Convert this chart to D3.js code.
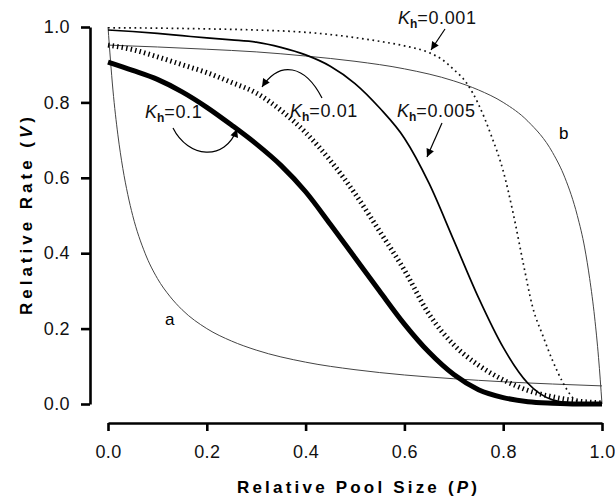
<!DOCTYPE html>
<html>
<head>
<meta charset="utf-8">
<script src="https://cdn.jsdelivr.net/npm/d3@7"></script>
<style>
  html, body { margin: 0; padding: 0; background: #fff; }
  svg { display: block; font-family: "Liberation Sans", Arial, Helvetica, sans-serif; }
</style>
</head>
<body>
<svg id="chart" width="615" height="501"></svg>
<script>
// ---- data ----
const xTicks = [0, 0.2, 0.4, 0.6, 0.8, 1.0];
const yTicks = [0, 0.2, 0.4, 0.6, 0.8, 1.0];

// curve a (thin)
const curveA = [[0,1.0],[0.01,0.833],[0.02,0.714],[0.03,0.625],[0.04,0.556],[0.05,0.5],[0.075,0.4],[0.1,0.333],
  [0.125,0.286],[0.15,0.25],[0.2,0.2],[0.25,0.167],[0.3,0.143],[0.4,0.111],[0.5,0.091],[0.6,0.077],
  [0.7,0.067],[0.8,0.059],[0.9,0.053],[1.0,0.048]];
// curve b (thin)
const curveB = [[0,0.952],[0.1,0.947],[0.2,0.941],[0.3,0.934],[0.4,0.923],[0.5,0.909],[0.6,0.889],
  [0.7,0.857],[0.75,0.833],[0.8,0.8],[0.85,0.75],[0.9,0.667],[0.925,0.6],[0.95,0.5],[0.965,0.414],
  [0.975,0.333],[0.985,0.231],[0.993,0.123],[1.0,0]];
// Kh = 0.1 (thick solid)
const curveK01 = [[0,0.907],[0.05,0.885],[0.1,0.861],[0.15,0.828],[0.2,0.787],[0.25,0.74],[0.3,0.69],
  [0.35,0.633],[0.4,0.563],[0.45,0.477],[0.5,0.388],[0.55,0.299],[0.6,0.212],[0.65,0.137],[0.7,0.078],
  [0.75,0.038],[0.8,0.017],[0.85,0.006],[0.9,0.002],[0.95,0],[1.0,0]];
// Kh = 0.01 (hatched)
const curveK001 = [[0,0.952],[0.05,0.94],[0.1,0.921],[0.15,0.9],[0.2,0.879],[0.25,0.853],[0.3,0.825],
  [0.35,0.779],[0.4,0.72],[0.45,0.646],[0.5,0.558],[0.55,0.458],[0.6,0.355],[0.65,0.238],[0.7,0.157],
  [0.75,0.103],[0.8,0.064],[0.85,0.036],[0.9,0.019],[0.95,0.008],[1.0,0.003]];
// Kh = 0.005 (medium solid)
const curveK0005 = [[0,0.992],[0.05,0.988],[0.1,0.983],[0.15,0.977],[0.2,0.971],[0.25,0.966],[0.3,0.96],
  [0.35,0.946],[0.4,0.926],[0.45,0.896],[0.5,0.85],[0.55,0.785],[0.6,0.705],[0.65,0.585],[0.7,0.434],
  [0.75,0.282],[0.8,0.15],[0.85,0.055],[0.9,0.011],[0.95,0.001],[1.0,0]];
// Kh = 0.001 (dotted)
const curveK0001 = [[0,0.998],[0.1,0.997],[0.2,0.995],[0.3,0.992],[0.4,0.986],[0.5,0.972],[0.55,0.962],
  [0.6,0.95],[0.65,0.932],[0.675,0.915],[0.7,0.887],[0.725,0.853],[0.75,0.795],[0.775,0.715],[0.8,0.618],[0.82,0.507],
  [0.84,0.377],[0.86,0.255],[0.88,0.182],[0.9,0.115],[0.92,0.059],[0.94,0.018],[0.96,0.003],[1.0,0]];

const khLabels = ["0.1", "0.01", "0.005", "0.001"];
const curveNames = ["a", "b"];
const xTitle = "Relative Pool Size";
const yTitle = "Relative Rate";

// ---- drawing ----
const svg = d3.select("#chart");
const x = d3.scaleLinear().domain([0, 1]).range([108, 602]);
const y = d3.scaleLinear().domain([0, 1]).range([404, 27]);
const FONT = "'Liberation Sans', Arial, Helvetica, sans-serif";

const defs = svg.append("defs");
defs.append("marker").attr("id", "ah").attr("viewBox", "0 0 10 10")
  .attr("refX", 10).attr("refY", 5).attr("markerWidth", 10).attr("markerHeight", 8)
  .attr("markerUnits", "userSpaceOnUse").attr("orient", "auto")
  .append("path").attr("d", "M0,0 L10,5 L0,10 Z").attr("fill", "#000");

// axes
const yAxis = d3.axisLeft(y).tickValues(yTicks).tickFormat(d3.format(".1f"))
  .tickSize(9).tickSizeOuter(0).tickPadding(11);
const gy = svg.append("g").attr("transform", "translate(90,0)").call(yAxis);
const xAxis = d3.axisBottom(x).tickValues(xTicks).tickFormat(d3.format(".1f"))
  .tickSize(8).tickSizeOuter(0).tickPadding(14);
const gx = svg.append("g").attr("transform", "translate(0,423)").call(xAxis);
[gx, gy].forEach(g => {
  g.select(".domain").attr("stroke", "#000").attr("stroke-width", 2.6);
  g.selectAll(".tick line").attr("stroke", "#000").attr("stroke-width", 2.6);
  g.selectAll(".tick text").attr("fill", "#111").style("font-size", "18px").style("font-family", FONT)
    .style("letter-spacing", "0.4px");
});

// axis titles
const xt = svg.append("text").attr("x", 357).attr("y", 493).attr("text-anchor", "middle")
  .style("font-size", "17px").style("font-weight", "bold").style("font-family", FONT)
  .attr("textLength", 240).attr("lengthAdjust", "spacing");
xt.append("tspan").text(xTitle + " (");
xt.append("tspan").style("font-style", "italic").text("P");
xt.append("tspan").text(")");

const yt = svg.append("text").attr("transform", "translate(32,216) rotate(-90)").attr("text-anchor", "middle")
  .style("font-size", "17px").style("font-weight", "bold").style("font-family", FONT)
  .attr("textLength", 198).attr("lengthAdjust", "spacing");
yt.append("tspan").text(yTitle + " (");
yt.append("tspan").style("font-style", "italic").text("V");
yt.append("tspan").text(")");

// curves
const line = d3.line().x(d => x(d[0])).y(d => y(d[1])).curve(d3.curveMonotoneX);
function draw(data, attrs) {
  const p = svg.append("path").datum(data).attr("d", line).attr("fill", "none");
  Object.entries(attrs).forEach(([k, v]) => p.attr(k, v));
}
draw(curveA, { stroke: "#444", "stroke-width": 1 });
draw(curveB, { stroke: "#444", "stroke-width": 1 });
draw(curveK0001, { stroke: "#111", "stroke-width": 1.7, "stroke-dasharray": "1.7,3.6" });
draw(curveK0005, { stroke: "#000", "stroke-width": 1.7 });
draw(curveK001, { stroke: "#000", "stroke-width": 5, "stroke-dasharray": "1.4,3.2" });
draw(curveK01, { stroke: "#000", "stroke-width": 5 });

// Kh labels
const khPos = [[145, 118], [290, 117], [397, 117], [398, 24]];
khLabels.forEach((lab, i) => {
  const t = svg.append("text").attr("x", khPos[i][0]).attr("y", khPos[i][1])
    .style("font-size", "18px").style("font-family", FONT).attr("fill", "#111");
  t.append("tspan").style("font-style", "italic").text("K");
  t.append("tspan").attr("dy", 4).style("font-size", "12px").style("font-weight", "bold").text("h");
  t.append("tspan").attr("dy", -4).style("letter-spacing", "0.6px").text("=" + lab);
});

// arrows
const arrows = [
  "M173,128 C188,158 225,162 237,129",
  "M322,98 C305,65 280,60 262,87",
  "M442,123 L427,157",
  "M445,29 L431,50"
];
arrows.forEach(d => {
  svg.append("path").attr("d", d).attr("fill", "none").attr("stroke", "#000")
    .attr("stroke-width", 1.2).attr("marker-end", "url(#ah)");
});

// curve letters
svg.append("text").attr("x", 165).attr("y", 325).style("font-size", "17px").style("font-family", FONT).text(curveNames[0]);
svg.append("text").attr("x", 559).attr("y", 139).style("font-size", "17px").style("font-family", FONT).text(curveNames[1]);
</script>
</body>
</html>
